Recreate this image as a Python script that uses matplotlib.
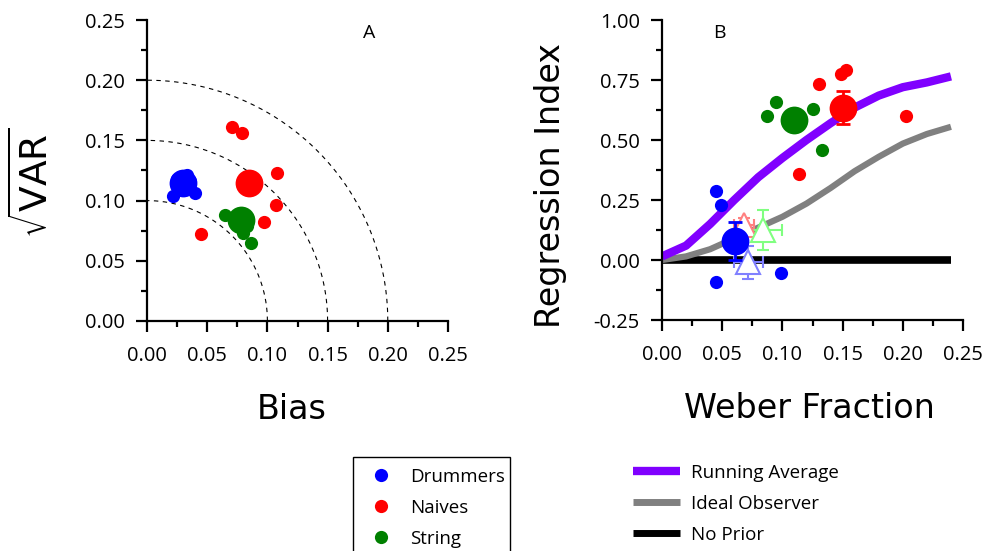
import numpy as np
import matplotlib
matplotlib.use("Agg")
import matplotlib.pyplot as plt
from matplotlib.lines import Line2D
from matplotlib.patches import Rectangle

plt.rcParams["font.family"] = ["Open Sans", "DejaVu Sans"]
plt.rcParams["mathtext.fontset"] = "dejavusans"

# Panel A: bias vs sqrt(VAR)
drum_bias = [0.022, 0.040, 0.025, 0.033, 0.028, 0.036, 0.031]
drum_sd = [0.104, 0.106, 0.118, 0.121, 0.113, 0.116, 0.110]
drum_mean = (0.030, 0.115)
naive_bias = [0.071, 0.079, 0.108, 0.107, 0.097, 0.045]
naive_sd = [0.161, 0.156, 0.123, 0.096, 0.082, 0.072]
naive_mean = (0.085, 0.115)
string_bias = [0.065, 0.086, 0.080, 0.083]
string_sd = [0.088, 0.065, 0.073, 0.079]
string_mean = (0.078, 0.084)
arc_radii = [0.10, 0.15, 0.20]

# Panel B: Weber fraction vs regression index
drum_wf = [0.045, 0.049, 0.045, 0.099]
drum_ri = [0.286, 0.230, -0.092, -0.055]
drum_mean_b = (0.061, 0.080, 0.080)  # x, y, yerr
naive_wf = [0.130, 0.149, 0.153, 0.203, 0.114]
naive_ri = [0.735, 0.775, 0.790, 0.600, 0.357]
naive_mean_b = (0.150, 0.635, 0.070)
string_wf = [0.095, 0.087, 0.125, 0.133]
string_ri = [0.660, 0.600, 0.630, 0.458]
string_mean_b = (0.110, 0.584, 0.020)

# open triangles: x, y, xerr, yerr
tri_red = (0.068, 0.145, 0.008, 0.030)
tri_green = (0.084, 0.125, 0.016, 0.084)
tri_blue = (0.0715, -0.010, 0.012, 0.070)

model_wf = [0.00, 0.02, 0.04, 0.06, 0.08, 0.10, 0.12, 0.14, 0.16, 0.18, 0.20, 0.22, 0.24]
running_avg = [0.015, 0.06, 0.15, 0.25, 0.345, 0.425, 0.50, 0.57, 0.635, 0.685, 0.72, 0.74, 0.765]
ideal_obs = [0.0, 0.015, 0.045, 0.09, 0.135, 0.18, 0.235, 0.30, 0.37, 0.43, 0.485, 0.525, 0.555]

BLUE, RED, GREEN = "#0000FF", "#FF0000", "#008000"
PURPLE, GRAY = "#8000FF", "#808080"
SMALL, BIG = 9.5, 20
TICK_FS, LEG_FS = 14.5, 13.5
LABEL_FONT = dict(fontsize=24, family="DejaVu Sans")


def style_axes(ax):
    for side in ("top", "right"):
        ax.spines[side].set_visible(False)
    for side in ("left", "bottom"):
        ax.spines[side].set_linewidth(1.6)
    ax.tick_params(which="major", direction="out", length=8, width=1.6, pad=8, labelsize=TICK_FS)
    ax.tick_params(axis="x", which="major", pad=10)
    ax.tick_params(which="minor", direction="out", length=4.5, width=1.6)


fig = plt.figure(figsize=(9.88, 5.51), dpi=100)
axA = fig.add_axes([147 / 988, 1 - 321 / 551, 301 / 988, 301 / 551])
axB = fig.add_axes([662 / 988, 1 - 320 / 551, 301 / 988, 300 / 551])

# ---- panel A
theta = np.linspace(0, np.pi / 2, 200)
for r in arc_radii:
    axA.plot(r * np.cos(theta), r * np.sin(theta), ls=(0, (4, 4)), color="k", lw=0.8)

for bx, sy, mean, col in [
    (drum_bias, drum_sd, drum_mean, BLUE),
    (naive_bias, naive_sd, naive_mean, RED),
    (string_bias, string_sd, string_mean, GREEN),
]:
    axA.plot(bx, sy, "o", color=col, ms=SMALL, mec="none")
    axA.plot(mean[0], mean[1], "o", color=col, ms=BIG, mec="none")

axA.set_xlim(0, 0.25)
axA.set_ylim(0, 0.25)
axA.set_xticks(np.arange(0, 0.26, 0.05))
axA.set_yticks(np.arange(0, 0.26, 0.05))
axA.set_xticks(np.arange(0.025, 0.25, 0.05), minor=True)
axA.set_yticks(np.arange(0.025, 0.25, 0.05), minor=True)
axA.xaxis.set_major_formatter(plt.FormatStrFormatter("%.2f"))
axA.yaxis.set_major_formatter(plt.FormatStrFormatter("%.2f"))
style_axes(axA)
axA.set_xlabel("Bias", **LABEL_FONT)
axA.xaxis.set_label_coords(0.48, -0.24)
axA.set_ylabel(r"$\sqrt{\mathrm{VAR}}$", fontsize=27)
axA.yaxis.set_label_coords(-0.30, 0.46)
axA.text(0.738, 0.957, "A", transform=axA.transAxes, ha="center", va="center", fontsize=14)

# ---- panel B
axB.plot(model_wf, [0] * len(model_wf), color="k", lw=5.5, solid_capstyle="butt", zorder=1)
axB.plot(model_wf, ideal_obs, color=GRAY, lw=4.5, solid_capstyle="butt", zorder=1)
axB.plot(model_wf, running_avg, color=PURPLE, lw=6, solid_capstyle="butt", zorder=1)

for tri, col in [(tri_red, "#FF8080"), (tri_green, "#80FF80"), (tri_blue, "#8080FF")]:
    axB.errorbar(tri[0], tri[1], xerr=tri[2], yerr=tri[3], fmt="^", ms=17, mfc="white",
                 mec=col, mew=1.5, ecolor=col, elinewidth=1.5, capsize=4, capthick=1.5, zorder=3)

for wx, ri, mean, col in [
    (drum_wf, drum_ri, drum_mean_b, BLUE),
    (naive_wf, naive_ri, naive_mean_b, RED),
    (string_wf, string_ri, string_mean_b, GREEN),
]:
    axB.plot(wx, ri, "o", color=col, ms=SMALL, mec="none", zorder=4)
    axB.errorbar(mean[0], mean[1], yerr=mean[2], fmt="o", color=col, ms=BIG, mec="none",
                 elinewidth=2, capsize=5, capthick=2, zorder=4)

axB.set_xlim(0, 0.25)
axB.set_ylim(-0.25, 1.0)
axB.set_xticks(np.arange(0, 0.26, 0.05))
axB.set_yticks(np.arange(-0.25, 1.01, 0.25))
axB.set_xticks(np.arange(0.025, 0.25, 0.05), minor=True)
axB.set_yticks(np.arange(-0.125, 1.0, 0.25), minor=True)
axB.xaxis.set_major_formatter(plt.FormatStrFormatter("%.2f"))
axB.yaxis.set_major_formatter(plt.FormatStrFormatter("%.2f"))
style_axes(axB)
axB.set_xlabel("Weber Fraction", **LABEL_FONT)
axB.xaxis.set_label_coords(0.49, -0.24)
axB.set_ylabel("Regression Index", **LABEL_FONT)
axB.yaxis.set_label_coords(-0.315, 0.45)
axB.text(0.19, 0.957, "B", transform=axB.transAxes, ha="center", va="center", fontsize=14)

# ---- legends
fig.patches.append(Rectangle((353 / 988, -0.05), 157 / 988, 1 - 457 / 551 + 0.05,
                             transform=fig.transFigure, fill=False, ec="k", lw=1))
group_handles = [Line2D([], [], marker="o", ls="none", color=c, ms=SMALL, mec="none")
                 for c in (BLUE, RED, GREEN)]
fig.legend(group_handles, ["Drummers", "Naives", "String"],
           loc="upper left", bbox_to_anchor=(362 / 988, 1 - 468 / 551), frameon=False,
           fontsize=LEG_FS, labelspacing=0.68, handletextpad=0.55, borderaxespad=0, borderpad=0)

line_handles = [Line2D([], [], color=c, lw=w, solid_capstyle="butt")
                for c, w in ((PURPLE, 6), (GRAY, 5), ("k", 5))]
fig.legend(line_handles, ["Running Average", "Ideal Observer", "No Prior"],
           loc="upper left", bbox_to_anchor=(633 / 988, 1 - 464 / 551), frameon=False,
           fontsize=LEG_FS, labelspacing=0.68, handlelength=2.5, handletextpad=0.6,
           borderaxespad=0, borderpad=0)

fig.savefig("out.png", dpi=100)
